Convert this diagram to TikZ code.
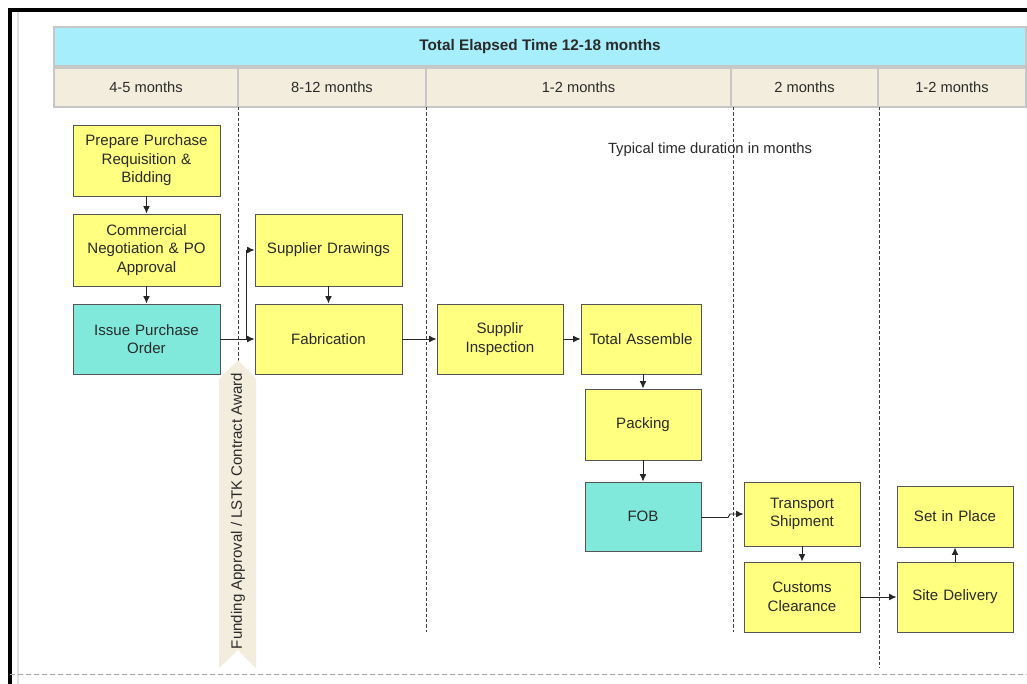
\documentclass[tikz,border=0pt]{standalone}
\usepackage{fontspec}
\setmainfont{Liberation Sans}
\usetikzlibrary{arrows.meta}
\definecolor{hdrcyan}{HTML}{A6EEFB}
\definecolor{hdrbeige}{HTML}{F2EDDC}
\definecolor{boxyellow}{HTML}{FFFF80}
\definecolor{boxteal}{HTML}{80E9DC}
\definecolor{txt}{HTML}{2A2A2A}
\definecolor{edge}{HTML}{555555}
\tikzset{
  box/.style={draw=edge, line width=0.7pt, fill=boxyellow, inner sep=1pt, align=center,
    text=txt, font=\fontsize{11.3}{13.8}\selectfont},
  tealbox/.style={box, fill=boxteal},
  hdr/.style={draw=black!22, line width=0.9pt, fill=hdrbeige, inner sep=0pt, text=txt,
    font=\fontsize{11}{13}\selectfont},
  arr/.style={draw=black!85, line width=0.7pt, -{Latex[length=5.5pt,width=5pt]}},
  divider/.style={draw=black!75, line width=0.6pt, dash pattern=on 2.5pt off 1.5pt},
}
\begin{document}
\begin{tikzpicture}[x=0.75pt, y=-0.75pt]
\useasboundingbox (0,0) rectangle (1027,684);
\fill[white] (0,0) rectangle (1027,684);
% frame
\draw[black, line width=2.4pt] (10,684) -- (10,10) -- (1030,10);
\draw[black!12, line width=1pt] (18,12) -- (18,684);
\draw[black!35, line width=0.7pt, dash pattern=on 4pt off 2pt] (10,674) -- (1027,674);
% header
\node[draw=black!22, line width=0.9pt, fill=hdrcyan, minimum width=729pt, minimum height=29.25pt, inner sep=0pt,
  font=\fontsize{11.5}{13}\selectfont\bfseries, text=txt] (title) at (540,46.5) {Total Elapsed Time 12-18 months};
\node[hdr, minimum width=138pt, minimum height=29.25pt] (c1) at (146,87.5) {4-5 months};
\node[hdr, minimum width=141pt, minimum height=29.25pt] (c2) at (332,87.5) {8-12 months};
\node[hdr, minimum width=228.75pt, minimum height=29.25pt] (c3) at (578.5,87.5) {1-2 months};
\node[hdr, minimum width=110.25pt, minimum height=29.25pt] (c4) at (804.5,87.5) {2 months};
\node[hdr, minimum width=111pt, minimum height=29.25pt] (c5) at (952,87.5) {1-2 months};
% dividers
\draw[divider] (238,107) -- (238,362);
\draw[divider] (426,107) -- (426,632);
\draw[divider] (733,107) -- (733,632);
\draw[divider] (879,107) -- (879,668);
% funding arrow
\fill[hdrbeige] (238,360) -- (256,379) -- (256,668) -- (238,650) -- (219,668) -- (219,379) -- cycle;
\node[rotate=90, text=txt, font=\fontsize{11.3}{13}\selectfont] (fund) at (238,511) {Funding Approval / LSTK Contract Award};
% note
\node[text=txt, font=\fontsize{11.1}{13}\selectfont] (note) at (710,150) {Typical time duration in months};
% boxes
\node[box, minimum width=110.25pt, minimum height=53.25pt, text width=106pt] (prep) at (146.5,160.5) {Prepare Purchase\\Requisition \&\\Bidding};
\node[box, minimum width=110.25pt, minimum height=54pt, text width=106pt] (comm) at (146.5,250) {Commercial\\Negotiation \& PO\\Approval};
\node[tealbox, minimum width=110.25pt, minimum height=52.5pt, text width=106pt] (issue) at (146.5,339) {Issue Purchase\\Order};
\node[box, minimum width=110.25pt, minimum height=54pt, text width=106pt] (sdraw) at (328.5,250) {Supplier Drawings};
\node[box, minimum width=110.25pt, minimum height=52.5pt, text width=106pt] (fab) at (328.5,339) {Fabrication};
\node[box, minimum width=94.5pt, minimum height=52.5pt, text width=90pt] (insp) at (500,339) {Supplir\\Inspection};
\node[box, minimum width=90pt, minimum height=52.5pt, text width=88pt] (assem) at (641,339) {Total Assemble};
\node[box, minimum width=87pt, minimum height=53.25pt, text width=83pt] (pack) at (643,424.5) {Packing};
\node[tealbox, minimum width=87pt, minimum height=51.75pt, text width=83pt] (fob) at (643,516.5) {FOB};
\node[box, minimum width=87pt, minimum height=48pt, text width=83pt] (trans) at (802,514) {Transport\\Shipment};
\node[box, minimum width=87pt, minimum height=52.5pt, text width=83pt] (cust) at (802,597) {Customs\\Clearance};
\node[box, minimum width=87pt, minimum height=45.75pt, text width=83pt] (place) at (955,516.5) {Set in Place};
\node[box, minimum width=87pt, minimum height=52.5pt, text width=83pt] (site) at (955,597) {Site Delivery};
% connectors
\draw[arr] (prep) -- (comm);
\draw[arr] (comm) -- (issue);
\draw[arr] (issue) -- (fab);
\coordinate (j) at (246,339);
\draw[arr] (j) |- (sdraw.west);
\draw[arr] (sdraw) -- (fab);
\draw[arr] (fab) -- (insp);
\draw[arr] (insp) -- (assem);
\draw[arr] (assem.south -| pack.north) -- (pack.north);
\draw[arr] (pack) -- (fob);
\coordinate (h1) at (728,517.5);
\coordinate (h2) at (730,514);
\draw[arr] (fob.east |- h1) -- (h1) -- (h2) -- (trans.west);
\draw[arr] (trans) -- (cust);
\draw[arr] (cust.east) -- (site.west);
\draw[arr] (site) -- (place);
\end{tikzpicture}
\end{document}
